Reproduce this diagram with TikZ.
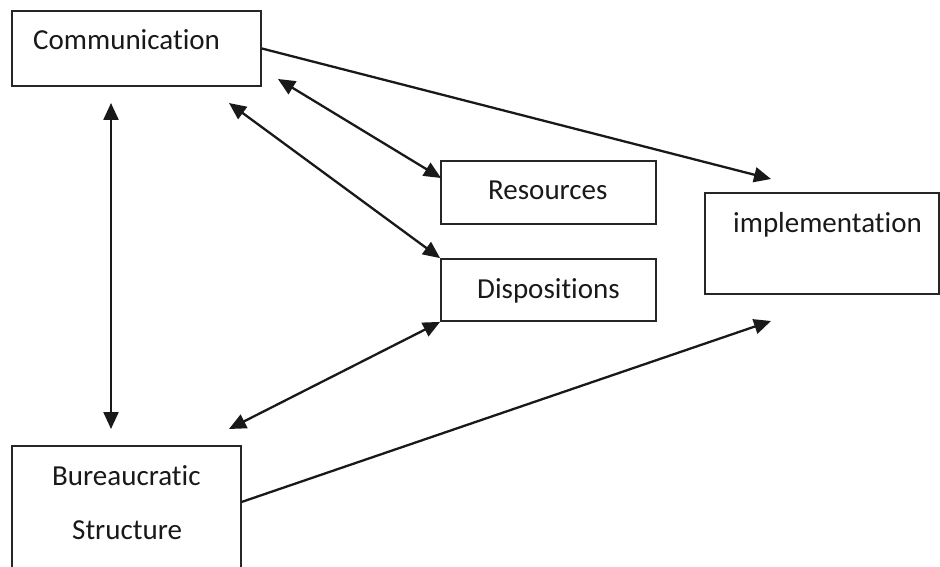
\documentclass[tikz,border=0pt]{standalone}
\usepackage{fontspec}
\setmainfont[Ligatures=NoCommon]{Carlito}
\usetikzlibrary{arrows.meta,calc}
\begin{document}
\begin{tikzpicture}[x=1pt,y=-1pt,
  box/.style={draw=black!85,line width=1.8pt,rectangle,inner sep=0pt},
  lbl/.style={inner sep=0pt,anchor=base west,text=black!90,font=\fontsize{29}{35}\selectfont},
  conn/.style={draw=black!90,line width=2.3pt},
  one/.style={-{Triangle[length=17pt,width=15pt]}},
  both/.style={{Triangle[length=17pt,width=15pt]}-{Triangle[length=17pt,width=15pt]}}]
\useasboundingbox (0,0) rectangle (940,567);
\clip (0,0) rectangle (940,567);
\fill[white] (0,0) rectangle (940,567);
% boxes
\node[box,minimum width=249pt,minimum height=75pt] (comm) at (136.5,48.5) {};
\node[box,minimum width=215pt,minimum height=63pt] (res) at (548.5,192.5) {};
\node[box,minimum width=215pt,minimum height=62pt] (disp) at (548.5,290) {};
\node[box,minimum width=234pt,minimum height=101pt] (impl) at (822,243.5) {};
\node[box,minimum width=229pt,minimum height=140pt] (bur) at (126.5,516) {};
% labels
\node[lbl] (tcomm) at (33,50) {Communication};
\node[lbl] (tres) at (488,200) {Resources};
\node[lbl] (tdisp) at (477,298) {Dispositions};
\node[lbl] (timpl) at (733,232) {implementation};
\node[lbl] (tbur1) at (52,485) {Bureaucratic};
\node[lbl] (tbur2) at (72,539) {Structure};
% connector ends
\coordinate (c1) at (771,179);
\coordinate (c2a) at (278,79);
\coordinate (c2b) at (441,178);
\coordinate (c3a) at (229,103);
\coordinate (c4a) at (111,103);
\coordinate (c4b) at (111,429);
\coordinate (c5b) at (229,429);
\coordinate (c6a) at (241.5,502);
\coordinate (c6b) at (771,321);
% connectors
\draw[conn,one] (comm.east) -- (c1);
\draw[conn,both] (c2a) -- (c2b);
\draw[conn,both] (c3a) -- (disp.north west);
\draw[conn,both] (c4a) -- (c4b);
\draw[conn,both] (disp.south west) -- (c5b);
\draw[conn,one] (c6a) -- (c6b);
\end{tikzpicture}
\end{document}
